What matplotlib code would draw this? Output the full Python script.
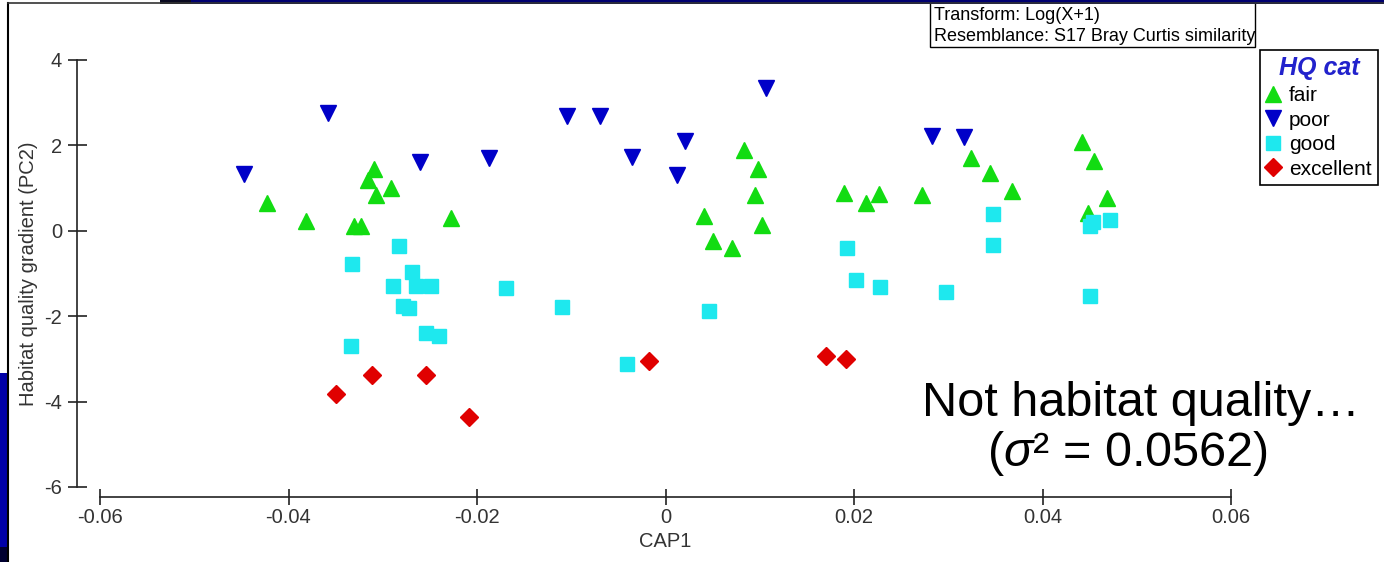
import matplotlib.pyplot as plt
from matplotlib.patches import Rectangle
from matplotlib.lines import Line2D

plt.rcParams['font.family'] = ['Liberation Sans', 'DejaVu Sans']
plt.rcParams['mathtext.fontset'] = 'custom'
plt.rcParams['mathtext.rm'] = 'Liberation Sans'
plt.rcParams['mathtext.it'] = 'Liberation Sans:italic'

# CAP1 / PC2 scores, per habitat quality category
fair_x = [-0.0423, -0.0381, -0.0331, -0.0323, -0.0316, -0.0309, -0.0307, -0.0291, -0.0228,
          0.0041, 0.0050, 0.0071, 0.0083, 0.0095, 0.0098, 0.0102, 0.0189, 0.0213, 0.0226,
          0.0272, 0.0324, 0.0344, 0.0368, 0.0442, 0.0448, 0.0455, 0.0468]
fair_y = [0.66, 0.23, 0.12, 0.12, 1.19, 1.45, 0.84, 1.00, 0.30,
          0.35, -0.23, -0.40, 1.90, 0.84, 1.45, 0.14, 0.89, 0.66, 0.87,
          0.84, 1.71, 1.36, 0.94, 2.08, 0.42, 1.64, 0.77]

poor_x = [-0.0447, -0.0358, -0.0260, -0.0187, -0.0105, -0.0069, -0.0036, 0.0012, 0.0021,
          0.0107, 0.0283, 0.0317]
poor_y = [1.33, 2.76, 1.62, 1.71, 2.69, 2.69, 1.73, 1.31, 2.11, 3.35, 2.22, 2.20]

good_x = [-0.0283, -0.0333, -0.0269, -0.0289, -0.0265, -0.0249, -0.0279, -0.0272, -0.0254,
          -0.0240, -0.0334, -0.0169, -0.0110, -0.0041, 0.0046, 0.0193, 0.0202, 0.0228,
          0.0298, 0.0347, 0.0348, 0.0450, 0.0450, 0.0454, 0.0472]
good_y = [-0.35, -0.77, -0.96, -1.29, -1.29, -1.29, -1.76, -1.80, -2.39,
          -2.46, -2.69, -1.33, -1.78, -3.11, -1.87, -0.40, -1.15, -1.31,
          -1.43, -0.33, 0.40, -1.52, 0.12, 0.20, 0.26]

exc_x = [-0.0350, -0.0311, -0.0254, -0.0209, -0.0018, 0.0170, 0.0192]
exc_y = [-3.82, -3.37, -3.37, -4.36, -3.04, -2.93, -3.00]

x_ticks = [-0.06, -0.04, -0.02, 0, 0.02, 0.04, 0.06]
x_labels = ['-0.06', '-0.04', '-0.02', '0', '0.02', '0.04', '0.06']
y_ticks = [-6, -4, -2, 0, 2, 4]
y_labels = ['-6', '-4', '-2', '0', '2', '4']

W, H = 1384, 562
fig = plt.figure(figsize=(W / 100, H / 100), dpi=100)


def fx(px):
    return px / W


def fy(py):
    return 1 - py / H


ax = fig.add_axes([fx(100), fy(487), (1231 - 100) / W, (487 - 60) / H])

series = [
    ('fair', fair_x, fair_y, '^', 12, '#12dc12'),
    ('poor', poor_x, poor_y, 'v', 12, '#0000c8'),
    ('good', good_x, good_y, 's', 10.5, '#1ee8ee'),
    ('excellent', exc_x, exc_y, 'D', 9.3, '#e00000'),
]
for name, xs, ys, mk, ms, col in series:
    ax.plot(xs, ys, linestyle='none', marker=mk, ms=ms, color=col, mec=col,
            label=name, clip_on=False)

ax.set_xlim(-0.06, 0.06)
ax.set_ylim(-6, 4)
ax.spines['top'].set_visible(False)
ax.spines['right'].set_visible(False)
ax.spines['left'].set_position(('outward', 23 * 0.72))
ax.spines['bottom'].set_position(('outward', 10 * 0.72))
ax.spines['left'].set_bounds(-6, 4)
ax.spines['bottom'].set_bounds(-0.06, 0.06)
for s in ['left', 'bottom']:
    ax.spines[s].set_linewidth(1.2)
    ax.spines[s].set_color('#222222')

ax.set_xticks(x_ticks, x_labels)
ax.set_yticks(y_ticks, y_labels)
ax.tick_params(axis='y', direction='inout', length=19 * 0.72, width=1.2, pad=4,
               labelsize=14.5, color='#222222', labelcolor='#333333')
ax.tick_params(axis='x', direction='inout', length=16 * 0.72, width=1.2, pad=2.5,
               labelsize=14.5, color='#222222', labelcolor='#333333')

ax.set_xlabel('CAP1', fontsize=14.5, color='#333333')
ax.xaxis.set_label_coords(0.5, (487 - 532) / 427)
ax.set_ylabel('Habitat quality gradient (PC2)', fontsize=14.5, color='#333333', va='center')
ax.yaxis.set_label_coords((28 - 100) / 1131, 0.5)

leg = ax.legend(title='HQ cat', loc='upper left', bbox_to_anchor=(fx(1260), fy(50)),
                bbox_transform=fig.transFigure, borderaxespad=0, fontsize=15,
                fancybox=False, edgecolor='black', framealpha=1, borderpad=0.3,
                handlelength=0.6, handletextpad=0.5, labelspacing=0.27,
                title_fontproperties={'size': 18, 'weight': 'bold', 'style': 'italic'})
leg.get_frame().set_linewidth(1.2)
leg.get_title().set_color('#2222cc')

# note box at the top
fig.add_artist(Rectangle((fx(930), fy(47)), (1255 - 930) / W, 50 / H,
                         transform=fig.transFigure, fc='white', ec='black', lw=1))
fig.text(fx(934), fy(20), 'Transform: Log(X+1)', fontsize=13, va='baseline')
fig.text(fx(934), fy(41), 'Resemblance: S17 Bray Curtis similarity', fontsize=13, va='baseline')

fig.text(fx(1141), fy(416), 'Not habitat quality…', fontsize=35, ha='center', va='baseline')
fig.text(fx(1127), fy(466), r'($\sigma$² = 0.0562)', fontsize=35, ha='center', va='baseline')

# slide decorations
fig.add_artist(Line2D([fx(8), fx(8)], [fy(3), 0], transform=fig.transFigure, color='black', lw=1.5))
fig.add_artist(Line2D([fx(8), 1], [fy(3), fy(3)], transform=fig.transFigure, color='#333333', lw=1.2))
fig.add_artist(Rectangle((fx(160), fy(4)), 31 / W, 4 / H, transform=fig.transFigure,
                         fc='#0a0a20', ec='none'))
fig.add_artist(Rectangle((fx(191), fy(4)), (W - 191) / W, 4 / H, transform=fig.transFigure,
                         fc='#000070', ec='none'))
fig.add_artist(Rectangle((0, fy(547)), 8 / W, 174 / H, transform=fig.transFigure,
                         fc='#0000a8', ec='none'))
fig.add_artist(Rectangle((0, 0), 8 / W, 15 / H, transform=fig.transFigure,
                         fc='#000030', ec='none'))

fig.savefig('out.png', dpi=100)
